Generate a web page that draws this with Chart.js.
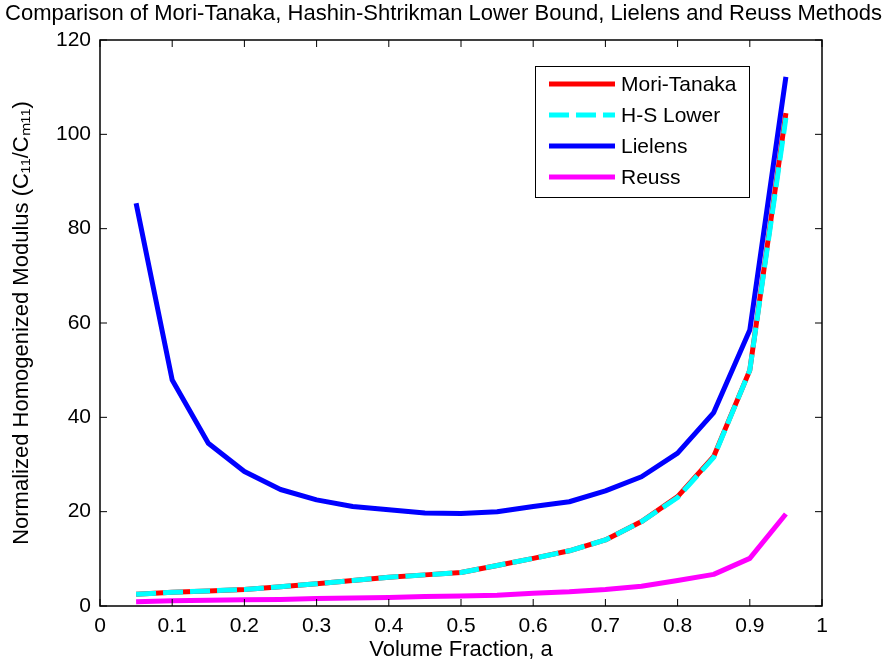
<!DOCTYPE html>
<html>
<head>
<meta charset="utf-8">
<script src="https://cdn.jsdelivr.net/npm/chart.js@4"></script>
<style>
  html, body { margin: 0; padding: 0; background: #fff; }
  canvas { display: block; }
</style>
</head>
<body>
<canvas id="modChart" width="887" height="668"></canvas>
<script>
// volume fraction samples
const volFrac = [0.05, 0.1, 0.15, 0.2, 0.25, 0.3, 0.35, 0.4, 0.45, 0.5,
                 0.55, 0.6, 0.65, 0.7, 0.75, 0.8, 0.85, 0.9, 0.95];

// normalized modulus C11/Cm11
const moriTanaka = [2.5, 2.9, 3.2, 3.5, 4.1, 4.7, 5.4, 6.1, 6.6, 7.1,
                    8.6, 10.1, 11.7, 14.0, 17.9, 23.2, 31.7, 50.0, 104.5];
const hsLower    = [2.5, 2.9, 3.2, 3.5, 4.1, 4.7, 5.4, 6.1, 6.6, 7.1,
                    8.6, 10.1, 11.7, 14.0, 17.9, 23.0, 31.5, 50.0, 103.5];
const lielens    = [85.4, 47.9, 34.5, 28.5, 24.7, 22.5, 21.1, 20.4, 19.7, 19.6,
                    20.0, 21.1, 22.1, 24.4, 27.4, 32.4, 41.0, 58.5, 112.2];
const reuss      = [0.9, 1.1, 1.2, 1.3, 1.4, 1.6, 1.7, 1.8, 2.0, 2.1,
                    2.3, 2.7, 3.0, 3.5, 4.2, 5.4, 6.7, 10.1, 19.5];

const seriesNames = ["Mori-Tanaka", "H-S Lower", "Lielens", "Reuss"];
const xTickLabels = ["0", "0.1", "0.2", "0.3", "0.4", "0.5", "0.6", "0.7", "0.8", "0.9", "1"];
const yTickLabels = ["0", "20", "40", "60", "80", "100", "120"];
const chartTitle = "Comparison of Mori-Tanaka, Hashin-Shtrikman Lower Bound, Lielens and Reuss Methods";

const FONT = "'Liberation Sans', Arial, sans-serif";

function pts(arr) {
    return volFrac.map((x, i) => ({ x: x, y: arr[i] }));
}

// MATLAB style box + inward tick marks, title and legend
const boxPlugin = {
    id: "matlabBox",
    afterDatasetsDraw(chart) {
        const { ctx, chartArea: a, scales } = chart;
        ctx.save();
        ctx.strokeStyle = "#000";
        ctx.lineWidth = 1.5;
        ctx.strokeRect(a.left, a.top, a.right - a.left, a.bottom - a.top);
        ctx.lineWidth = 1;
        const len = 7;
        ctx.beginPath();
        xTickLabels.forEach((_, i) => {
            const px = scales.x.getPixelForValue(i / 10);
            ctx.moveTo(px, a.bottom); ctx.lineTo(px, a.bottom - len);
            ctx.moveTo(px, a.top); ctx.lineTo(px, a.top + len);
        });
        yTickLabels.forEach((_, i) => {
            const py = scales.y.getPixelForValue(i * 20);
            ctx.moveTo(a.left, py); ctx.lineTo(a.left + len, py);
            ctx.moveTo(a.right, py); ctx.lineTo(a.right - len, py);
        });
        ctx.stroke();
        ctx.restore();
    },
    afterDraw(chart) {
        const { ctx, chartArea: a, width } = chart;
        ctx.save();
        // title across the whole figure
        ctx.fillStyle = "#000";
        ctx.font = "22px " + FONT;
        ctx.textAlign = "center";
        ctx.textBaseline = "middle";
        ctx.fillText(chartTitle, width / 2, 14);

        // legend box inside the axes (upper right)
        const bx = a.left + 435, by = a.top + 26, bw = 214, bh = 131;
        ctx.fillStyle = "#fff";
        ctx.fillRect(bx, by, bw, bh);
        ctx.strokeStyle = "#000";
        ctx.lineWidth = 1;
        ctx.strokeRect(bx + 0.5, by + 0.5, bw, bh);
        ctx.font = "21px " + FONT;
        ctx.textAlign = "left";
        seriesNames.forEach((name, i) => {
            const ds = chart.data.datasets.find(d => d.label === name);
            const y = by + 18 + i * 31;
            ctx.beginPath();
            ctx.strokeStyle = ds.borderColor;
            ctx.lineWidth = ds.borderWidth;
            ctx.setLineDash(ds.borderDash || []);
            ctx.moveTo(bx + 14, y);
            ctx.lineTo(bx + 80, y);
            ctx.stroke();
            ctx.setLineDash([]);
            ctx.fillStyle = "#000";
            ctx.fillText(name, bx + 86, y + 1);
        });
        ctx.restore();
    }
};

new Chart(document.getElementById("modChart"), {
    type: "line",
    data: {
        datasets: [
            { label: seriesNames[0], data: pts(moriTanaka), borderColor: "#ff0000", borderWidth: 5, order: 4 },
            { label: seriesNames[1], data: pts(hsLower), borderColor: "#00ffff", borderWidth: 5, borderDash: [20, 7], order: 3 },
            { label: seriesNames[2], data: pts(lielens), borderColor: "#0000ff", borderWidth: 5, order: 2 },
            { label: seriesNames[3], data: pts(reuss), borderColor: "#ff00ff", borderWidth: 5, order: 1 }
        ]
    },
    options: {
        responsive: false,
        animation: false,
        devicePixelRatio: 1,
        elements: {
            point: { radius: 0, hoverRadius: 0 },
            line: { tension: 0, fill: false, borderJoinStyle: "round" }
        },
        layout: { padding: { top: 40, right: 65, left: 0, bottom: 0 } },
        plugins: {
            legend: { display: false },
            tooltip: { enabled: false },
            title: { display: false }
        },
        scales: {
            x: {
                type: "linear",
                min: 0,
                max: 1,
                afterFit(s) { s.height = 62; },
                grid: { display: false, drawTicks: false },
                border: { display: false },
                ticks: {
                    stepSize: 0.1,
                    autoSkip: false,
                    maxRotation: 0,
                    padding: 8,
                    color: "#000",
                    font: { family: FONT, size: 21 },
                    callback: v => xTickLabels[Math.round(v * 10)]
                },
                title: {
                    display: true,
                    text: "Volume Fraction, a",
                    color: "#000",
                    font: { family: FONT, size: 22 },
                    padding: { top: 0, bottom: 5 }
                }
            },
            y: {
                min: 0,
                max: 120,
                afterFit(s) { s.width = 100; },
                grid: { display: false, drawTicks: false },
                border: { display: false },
                ticks: {
                    stepSize: 20,
                    padding: 9,
                    color: "#000",
                    font: { family: FONT, size: 21 },
                    callback: v => yTickLabels[Math.round(v / 20)]
                },
                title: {
                    display: true,
                    text: "Normalized Homogenized Modulus (C₁₁/C\u2098₁₁)",
                    color: "#000",
                    font: { family: FONT, size: 22 },
                    padding: { top: 9, bottom: 0 }
                }
            }
        }
    },
    plugins: [boxPlugin]
});
</script>
</body>
</html>
